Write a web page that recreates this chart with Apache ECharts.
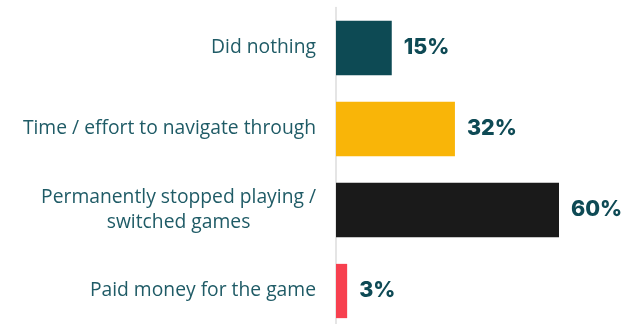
<!DOCTYPE html>
<html>
<head>
<meta charset="utf-8">
<script src="https://cdn.jsdelivr.net/npm/echarts@6/dist/echarts.min.js"></script>
<style>
  html, body { margin: 0; padding: 0; background: #ffffff; }
  #chart { width: 630px; height: 324px; }
</style>
</head>
<body>
<div id="chart"></div>
<script>
// Survey responses, listed top to bottom
const categories = [
  'Did nothing',
  'Time / effort to navigate through',
  'Permanently stopped playing /\nswitched games',
  'Paid money for the game'
];
const values = [15, 32, 60, 3];
const barColors = ['#0d4a54', '#f9b508', '#1a1a1a', '#f7404f'];

const labelFont = 'Open Sans';

const chart = echarts.init(document.getElementById('chart'), null, { renderer: 'canvas' });

chart.setOption({
  animation: false,
  grid: {
    left: 336, top: 7.5, width: 223, height: 324,
    outerBoundsMode: 'none', containLabel: false
  },
  xAxis: {
    type: 'value',
    min: 0,
    max: 60,
    show: false
  },
  yAxis: {
    type: 'category',
    inverse: true,
    data: categories,
    axisLine: { show: true, lineStyle: { color: '#dcdcdc', width: 1.5 } },
    axisTick: { show: false },
    axisLabel: {
      margin: 20,
      fontFamily: labelFont,
      fontSize: 19.3,
      color: '#1f5b66',
      lineHeight: 25,
      formatter: v => '{c|' + v.split('\n').join('}\n{c|') + '}',
      rich: { c: { align: 'center', fontFamily: labelFont, fontSize: 19.3, color: '#1f5b66', lineHeight: 25 } }
    }
  },
  series: [{
    type: 'bar',
    barCategoryGap: '33%',
    data: values.map((v, i) => ({ value: v, itemStyle: { color: barColors[i] } })),
    label: {
      show: true,
      position: 'right',
      distance: 12,
      formatter: '{c}%',
      fontFamily: 'Inter',
      fontWeight: 800,
      fontSize: 21.5,
      color: '#0e4a55'
    }
  }]
});
</script>
</body>
</html>
